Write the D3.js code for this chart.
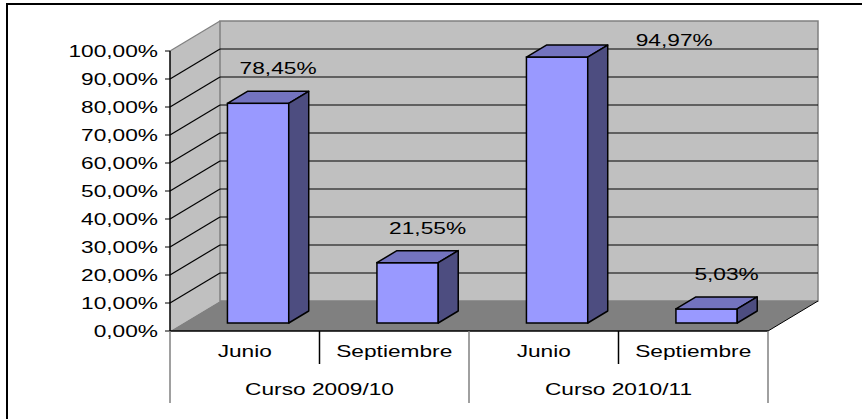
<!DOCTYPE html>
<html>
<head>
<meta charset="utf-8">
<script src="https://cdn.jsdelivr.net/npm/d3@7"></script>
<style>
  body { margin: 0; background: #fff; }
  text { font-family: "Liberation Sans", Arial, sans-serif; font-size: 16px; fill: #000; }
</style>
</head>
<body>
<div class="viz"></div>
<script>
// data
const courses = ["Curso 2009/10", "Curso 2010/11"];
const months = ["Junio", "Septiembre"];
const values = [78.45, 21.55, 94.97, 5.03];
const yTicks = [0, 10, 20, 30, 40, 50, 60, 70, 80, 90, 100];

const categories = courses.flatMap((c) => months.map((m) => ({ course: c, month: m })));

// layout
const width = 862, height = 419;
const plot = { left: 170, right: 768, top: 51, bottom: 331 };
const depth = { dx: 50, dy: -30 };   // 3d offset of the back wall
const barDepth = [8 / 30, 20 / 30];  // bar front/back as fraction of depth
const stretch = 1.42;                // text is drawn wide, like the original

const locale = d3.formatLocale({ decimal: ",", thousands: ".", grouping: [3], currency: ["", "€"] });
const pct = (v) => locale.format(".2f")(v) + "%";

var svg = d3.select(".viz")
  .append("svg")
  .attr("width", width)
  .attr("height", height);

// outer frame
svg.append("rect")
  .attr("x", 7).attr("y", 4)
  .attr("width", width + 20).attr("height", height + 20)
  .attr("fill", "none").attr("stroke", "#000").attr("stroke-width", 2);

var yscale = d3.scaleLinear().domain([0, 100]).range([plot.bottom, plot.top]);
var xscale = d3.scaleBand().domain(d3.range(categories.length)).range([plot.left, plot.right]);
var cscale = d3.scaleBand().domain(courses).range([plot.left, plot.right]);

const back = (x, y, d = 1) => [x + depth.dx * d, y + depth.dy * d];
const wideText = (g, x, y, anchor, txt) =>
  g.append("text")
    .attr("transform", "translate(" + x + "," + y + ") scale(" + stretch + ",1)")
    .attr("text-anchor", anchor)
    .text(txt);

// walls
const walls = svg.append("g");
const y0 = yscale(0), y100 = yscale(100);
walls.append("polygon")
  .attr("points", [[plot.left, y0], [plot.left, y100], back(plot.left, y100), back(plot.left, y0)].join(" "))
  .attr("fill", "#c0c0c0");
walls.append("rect")
  .attr("x", plot.left + depth.dx).attr("y", y100 + depth.dy)
  .attr("width", plot.right - plot.left).attr("height", y0 - y100)
  .attr("fill", "#c0c0c0").attr("stroke", "#808080").attr("stroke-width", 1.5);
walls.append("polygon")
  .attr("points", [[plot.left, y0], back(plot.left, y0), back(plot.right, y0), [plot.right, y0]].join(" "))
  .attr("fill", "#808080");
walls.append("line")
  .attr("x1", plot.right).attr("y1", y0)
  .attr("x2", back(plot.right, y0)[0]).attr("y2", back(plot.right, y0)[1])
  .attr("stroke", "#000");

// gridlines
yTicks.filter((t) => t > 0).forEach((t) => {
  const y = yscale(t);
  const col = t === 100 ? "#808080" : "#000";
  const b = back(plot.left, y);
  walls.append("line")
    .attr("x1", plot.left).attr("y1", y).attr("x2", b[0]).attr("y2", b[1])
    .attr("stroke", col).attr("stroke-width", 1.2);
  if (t < 100) {
    walls.append("line")
      .attr("x1", b[0]).attr("y1", b[1]).attr("x2", back(plot.right, y)[0]).attr("y2", b[1])
      .attr("stroke", col).attr("stroke-width", 1.2);
  }
});

// y axis
const yaxis = svg.append("g");
yaxis.append("line")
  .attr("x1", plot.left).attr("x2", plot.left)
  .attr("y1", y100).attr("y2", y0)
  .attr("stroke", "#000").attr("stroke-width", 1.5);
yTicks.forEach((t) => {
  yaxis.append("line")
    .attr("x1", plot.left - 5).attr("x2", plot.left)
    .attr("y1", yscale(t)).attr("y2", yscale(t))
    .attr("stroke", "#000");
  wideText(yaxis, plot.left - 12, yscale(t) + 6, "end", pct(t));
});

// x axis
const xaxis = svg.append("g");
xaxis.append("line")
  .attr("x1", plot.left).attr("x2", plot.right)
  .attr("y1", y0).attr("y2", y0)
  .attr("stroke", "#000").attr("stroke-width", 1.5);
d3.range(categories.length + 1).forEach((i) => {
  const x = plot.left + i * xscale.bandwidth();
  const inner = i % months.length !== 0;
  xaxis.append("line")
    .attr("x1", x).attr("x2", x)
    .attr("y1", y0).attr("y2", inner ? y0 + 33 : y0 + 72)
    .attr("stroke", inner ? "#000" : "#808080").attr("stroke-width", 1.5);
});
categories.forEach((c, i) => {
  wideText(xaxis, xscale(i) + xscale.bandwidth() / 2, y0 + 26, "middle", c.month);
});
courses.forEach((c) => {
  wideText(xaxis, cscale(c) + cscale.bandwidth() / 2, y0 + 64, "middle", c);
});

// bars
const bars = svg.append("g");
const halfw = xscale.bandwidth() * 0.205;
const ddx = depth.dx * (barDepth[1] - barDepth[0]);
const ddy = depth.dy * (barDepth[1] - barDepth[0]);
values.forEach((v, i) => {
  const cx = xscale(i) + xscale.bandwidth() / 2;
  const [fl, fb] = back(cx - halfw, yscale(0), barDepth[0]);
  const fr = fl + 2 * halfw;
  const ft = back(cx, yscale(v), barDepth[0])[1];

  bars.append("rect")
    .attr("x", fl).attr("y", ft)
    .attr("width", fr - fl).attr("height", fb - ft)
    .attr("fill", "#9999ff").attr("stroke", "#000").attr("stroke-width", 1.5);
  bars.append("polygon")
    .attr("points", [[fl, ft], [fl + ddx, ft + ddy], [fr + ddx, ft + ddy], [fr, ft]].join(" "))
    .attr("fill", "#7373bf").attr("stroke", "#000").attr("stroke-width", 1.5).attr("stroke-linejoin", "round");
  bars.append("polygon")
    .attr("points", [[fr, ft], [fr + ddx, ft + ddy], [fr + ddx, fb + ddy], [fr, fb]].join(" "))
    .attr("fill", "#4d4d80").attr("stroke", "#000").attr("stroke-width", 1.5).attr("stroke-linejoin", "round");

  // data label above the back of the bar, kept inside the walls
  const backTop = ft + ddy;
  let lx = (fl + fr) / 2 + ddx;
  let ly = Math.min(backTop - 17, yscale(0) + depth.dy - 10);
  let anchor = "middle";
  const minY = yscale(100) + depth.dy + 25;
  if (ly < minY) {
    ly = minY;
    lx = fr + ddx + 28;
    anchor = "start";
  }
  wideText(bars, lx, ly, anchor, pct(v));
});
</script>
</body>
</html>
